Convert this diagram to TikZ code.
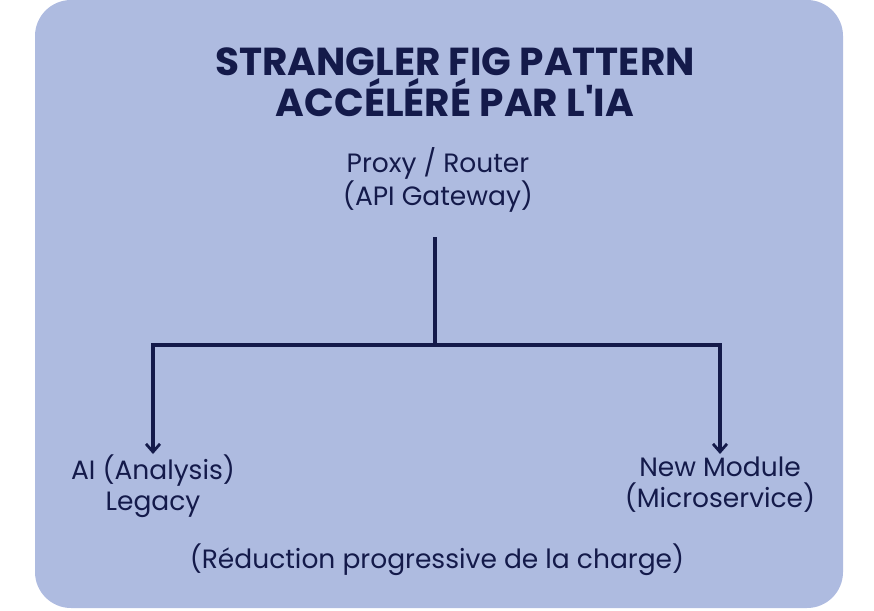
\documentclass[tikz,border=0pt]{standalone}
\usepackage{fontspec}
\setmainfont{Poppins}[Ligatures=TeXOff]
\usetikzlibrary{arrows.meta}
\definecolor{bgc}{HTML}{AEBBE0}
\definecolor{ink}{HTML}{141A4A}
\begin{document}
\begin{tikzpicture}[x=1pt,y=-1pt,
  lbl/.style={text=ink,font=\fontsize{26.5}{31}\selectfont,align=center,inner sep=0pt},
  ttl/.style={text=ink,font=\bfseries\fontsize{39}{41}\selectfont,align=center,inner sep=0pt},
  conn/.style={draw=ink,line width=3.2pt},
  arr/.style={conn,-{Straight Barb[length=8pt,width=14pt,line width=2.8pt]}}]
\useasboundingbox (0,0) rectangle (874,610);
\fill[bgc,rounded corners=36pt] (35,0) rectangle (843,608);
\node[ttl] (title) at (455,82) {STRANGLER FIG PATTERN\\ACCÉLÉRÉ PAR L'IA};
\node[lbl] (proxy) at (438,180) {Proxy / Router\\(API Gateway)};
\node[lbl] (legacy) at (153,486) {AI (Analysis)\\Legacy};
\node[lbl] (newmod) at (720,485) {New Module\\(Microservice)};
\node[lbl] (note) at (437,560) {(Réduction progressive de la charge)};
\coordinate (top) at (435,237);
\coordinate (mid) at (435,345);
\coordinate (lc) at (153,345);
\coordinate (rc) at (720,345);
\coordinate (la) at (153,454);
\coordinate (ra) at (720,454);
\draw[conn] (top) -- (mid);
\draw[arr] (mid) -- (lc) -- (la);
\draw[arr] (mid) -- (rc) -- (ra);
\end{tikzpicture}
\end{document}
